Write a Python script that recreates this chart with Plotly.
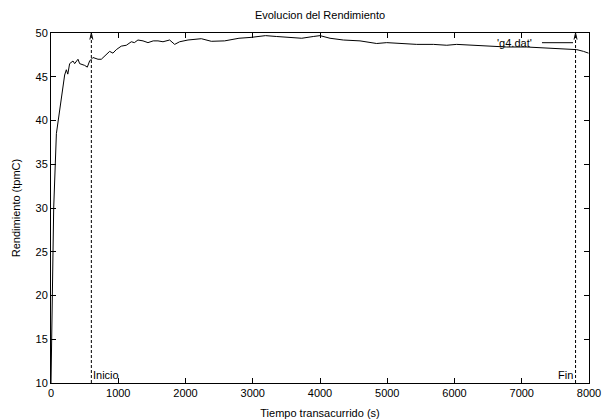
import plotly.graph_objects as go

tiempo = [0, 20, 40, 80, 134, 183, 203, 228, 250, 277, 327, 352, 401, 426, 500, 540, 574, 624,
          699, 748, 822, 872, 921, 971, 1045, 1120, 1194, 1240, 1293, 1368, 1442, 1520, 1591,
          1665, 1764, 1839, 1913, 2037, 2235, 2384, 2582, 2795, 2974, 3190, 3356,
          3569, 3728, 3900, 4000, 4149, 4347, 4595, 4843, 4992, 5190, 5438, 5686, 5885, 6032,
          6281, 6528, 6776, 7074, 7372, 7669, 7818, 7918, 7993]
rendimiento = [10.0, 20.0, 30.0, 38.5, 41.2, 43.9, 45.2, 45.8, 45.3, 46.5, 46.8, 46.5, 47.0, 46.5,
               46.3, 46.1, 46.8, 47.2, 47.0, 47.0, 47.6, 47.9, 47.7, 48.1, 48.5, 48.6, 49.0, 48.9,
               49.2, 49.1, 48.9, 49.1, 49.1, 49.0, 49.2, 48.7, 49.0, 49.2, 49.35, 49.05, 49.1,
               49.4, 49.5, 49.7, 49.6, 49.5, 49.4, 49.6, 49.7, 49.4, 49.2, 49.1, 48.8, 48.9,
               48.8, 48.7, 48.7, 48.6, 48.7, 48.6, 48.5, 48.4, 48.4, 48.3, 48.2, 48.1, 47.9, 47.7]

marcas_x = [600, 7800]
marcas_txt = ["Inicio", "Fin"]
y_min, y_max = 10, 50
x_min, x_max = 0, 8000

FONT = "Liberation Sans, Arial, Helvetica, sans-serif"

fig = go.Figure()
fig.add_trace(go.Scatter(x=tiempo, y=rendimiento, mode="lines",
                         line=dict(color="black", width=1), showlegend=False,
                         hoverinfo="skip"))

# dashed marker arrows
for mx in marcas_x:
    fig.add_trace(go.Scatter(x=[mx, mx], y=[y_min, y_max], mode="lines",
                             line=dict(color="black", width=1, dash="3px,2px"),
                             showlegend=False, hoverinfo="skip"))
    fig.add_trace(go.Scatter(x=[mx - 22, mx, mx + 22], y=[y_max - 0.75, y_max, y_max - 0.75],
                             mode="lines", line=dict(color="black", width=1),
                             showlegend=False, hoverinfo="skip"))

fig.add_annotation(x=marcas_x[0], y=y_min, text=marcas_txt[0], showarrow=False,
                   xanchor="left", yanchor="bottom", xshift=0, yshift=0,
                   font=dict(size=11, color="black", family=FONT))
fig.add_annotation(x=marcas_x[1], y=y_min, text=marcas_txt[1], showarrow=False,
                   xanchor="right", yanchor="bottom", xshift=-1, yshift=0,
                   font=dict(size=11, color="black", family=FONT))

# gnuplot-style legend: text then line sample
fig.add_annotation(xref="paper", yref="paper", x=0.8978, y=0.9723, text="'g4.dat'",
                   showarrow=False, xanchor="right", yanchor="middle",
                   font=dict(size=11, color="black", family=FONT))
fig.add_shape(type="line", xref="paper", yref="paper", x0=0.9126, x1=0.9703,
              y0=0.9723, y1=0.9723, line=dict(color="black", width=1))

axis_common = dict(showline=True, linecolor="black", linewidth=1, mirror="allticks",
                   ticks="inside", ticklen=5, tickcolor="black", tickwidth=1,
                   showgrid=False, zeroline=False, automargin=False,
                   ticklabeloverflow="allow",
                   tickfont=dict(size=11, color="black", family=FONT))

fig.update_xaxes(range=[x_min, x_max], dtick=1000, tick0=0,
                 title=dict(text="Tiempo transacurrido (s)", standoff=11,
                            font=dict(size=11, color="black", family=FONT)),
                 **axis_common)
fig.update_yaxes(range=[y_min, y_max], dtick=5, tick0=10,
                 title=dict(text="Rendimiento (tpmC)", standoff=12,
                            font=dict(size=11, color="black", family=FONT)),
                 **axis_common)

W, H = 602, 420
fig.update_layout(
    width=W, height=H,
    margin=dict(l=51, r=13, t=33, b=37),
    paper_bgcolor="white", plot_bgcolor="white",
    title=dict(text="Evolucion del Rendimiento", x=320 / W, xanchor="center",
               y=1 - 15 / H, yanchor="middle",
               font=dict(size=11, color="black", family=FONT)),
    showlegend=False,
)

fig.write_html("out.html",
               config={"displayModeBar": False},
               post_script="document.body.style.margin='0';"
                           "document.documentElement.style.overflow='hidden';"
                           "document.body.style.overflow='hidden';")
